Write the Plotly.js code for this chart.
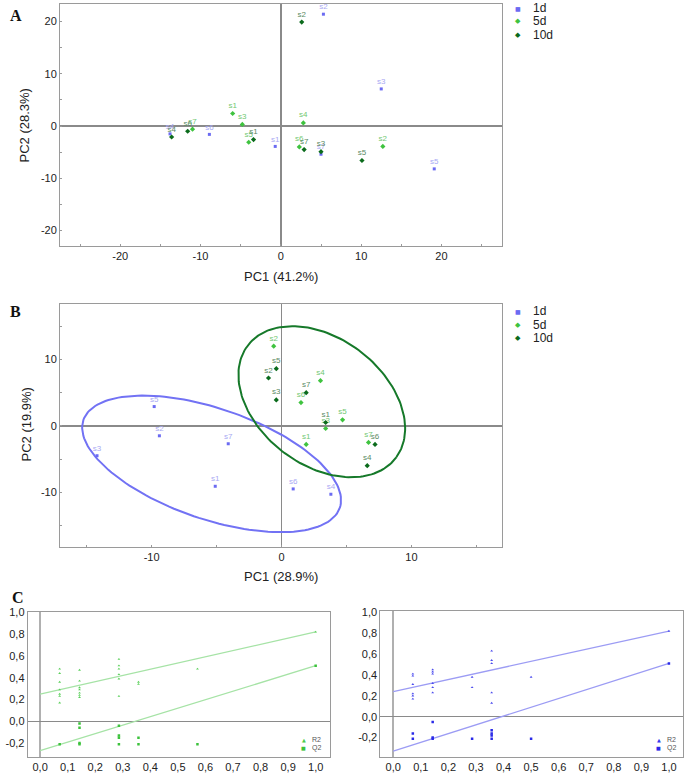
<!DOCTYPE html>
<html><head><meta charset="utf-8">
<script src="https://cdn.plot.ly/plotly-3.0.1.min.js"></script>
<style>html,body{margin:0;padding:0;background:#fff}#chart{width:685px;height:775px}</style>
</head><body><div id="chart"></div>
<script>
// ---------- DATA ----------
const sampleLabels = ['s1','s2','s3','s4','s5','s6','s7'];
const groupNames = ['1d','5d','10d'];
const axisTitles = {aX:'PC1 (41.2%)', aY:'PC2 (28.3%)', bX:'PC1 (28.9%)', bY:'PC2 (19.9%)'};

// Panel A (PCA scores)
const a1dX  = [-0.7, 5.3, 12.5, -13.8, 19.1, -8.9, 5.0];
const a1dY  = [-3.9, 21.4, 7.1, -1.5, -8.2, -1.6, -5.4];
const a5dX  = [-6.0, 12.7, -4.8, 2.8, -4.0, 2.3, -11.0];
const a5dY  = [2.4, -3.9, 0.3, 0.6, -3.1, -4.0, -0.6];
const a10dX = [-3.4, 2.6, 5.0, -13.6, 10.1, -11.6, 2.9];
const a10dY = [-2.6, 19.9, -4.9, -2.1, -6.6, -1.0, -4.5];

// Panel B (PCA scores)
const b1dX  = [-5.1, -9.4, -14.2, 3.8, -9.8, 0.9, -4.1];
const b1dY  = [-9.1, -1.5, -4.5, -10.3, 2.9, -9.5, -2.7];
const b5dX  = [1.9, -0.6, 3.4, 3.0, 4.7, 1.5, 6.7];
const b5dY  = [-2.8, 12.0, -0.4, 6.8, 0.9, 3.5, -2.5];
const b10dX = [3.4, -1.0, -0.4, 6.6, -0.4, 7.2, 1.9];
const b10dY = [0.5, 7.2, 3.9, -6.0, 8.6, -2.8, 5.0];
// ellipses: [cx, cy, ux, uy, vx, vy] (centre and conjugate semi-diameters)
const ellipse1d  = [-5.38, -5.73, 9.87, -6.61, -1.37, -7.88];
const ellipse5d10d = [3.1, 3.63, 5.75, -8.33, -2.85, -7.75];

// Panel C left (permutation test, green)
const cLR2X = [0.071,0.071,0.071,0.071,0.071,0.071,0.071, 0.143,0.143,0.143,0.143,0.143,0.143,0.143, 0.286,0.286,0.286,0.286,0.286,0.286, 0.357,0.357, 0.571, 1.0];
const cLR2Y = [0.48,0.44,0.36,0.29,0.25,0.23,0.17, 0.47,0.37,0.31,0.29,0.26,0.24,0.22, 0.57,0.51,0.48,0.43,0.39,0.23, 0.36,0.34, 0.48, 0.82];
const cLQ2X = [0.071, 0.143,0.143,0.143,0.143, 0.286,0.286,0.286,0.286, 0.357,0.357, 0.571, 1.0];
const cLQ2Y = [-0.21, -0.02,-0.06,-0.20,-0.21, -0.04,-0.13,-0.15,-0.21, -0.15,-0.21, -0.21, 0.51];
const cLR2Line = [0.25, 0.82];
const cLQ2Line = [-0.27, 0.51];

// Panel C right (permutation test, blue)
const cRR2X = [0.071,0.071,0.071,0.071,0.071,0.071, 0.143,0.143,0.143,0.143,0.143,0.143, 0.286,0.286, 0.357,0.357,0.357,0.357,0.357, 0.5, 1.0];
const cRR2Y = [0.41,0.39,0.31,0.22,0.20,0.17, 0.45,0.43,0.41,0.32,0.28,0.23, 0.38,0.28, 0.63,0.54,0.51,0.23,0.13, 0.38, 0.82];
const cRQ2X = [0.071,0.071, 0.143,0.143,0.143, 0.286, 0.357,0.357,0.357,0.357, 0.5, 1.0];
const cRQ2Y = [-0.16,-0.21, -0.05,-0.20,-0.21, -0.21, -0.13,-0.16,-0.18,-0.21, -0.21, 0.51];
const cRR2Line = [0.24, 0.82];
const cRQ2Line = [-0.33, 0.51];
const lineX = [0, 1];

// Tick labels
const aXTicks = [-20,-10,0,10,20], aXText = ['-20','-10','0','10','20'];
const aYTicks = [-20,-10,0,10,20], aYText = ['-20','-10','0','10','20'];
const bXTicks = [-10,0,10], bXText = ['-10','0','10'];
const bYTicks = [-10,0,10], bYText = ['-10','0','10'];
const cXTicks = [0,0.1,0.2,0.3,0.4,0.5,0.6,0.7,0.8,0.9,1.0];
const cXText = ['0,0','0,1','0,2','0,3','0,4','0,5','0,6','0,7','0,8','0,9','1,0'];
const cYTicks = [-0.2,0,0.2,0.4,0.6,0.8,1.0];
const cYText = ['-0,2','0,0','0,2','0,4','0,6','0,8','1,0'];

// ---------- STYLE ----------
const FONT = 'Liberation Sans, Arial, sans-serif';
const W = 685, H = 775;
const col1d = '#6b6bf2', col5d = '#3fc33f', col10d = '#0b6b1c';
const txt1d = '#a9a9f3', txt5d = '#72c872', txt10d = '#5b8a63';
const colEllBlue = '#7272f4', colEllGreen = '#16792a';

function ell(p){
  const xs=[], ys=[];
  for(let i=0;i<=160;i++){
    const t = 2*Math.PI*i/160;
    xs.push(p[0]+p[2]*Math.cos(t)+p[4]*Math.sin(t));
    ys.push(p[1]+p[3]*Math.cos(t)+p[5]*Math.sin(t));
  }
  return {xs, ys};
}

function scoreTrace(x, y, xa, ya, symbol, mcol, tcol, size){
  return {x, y, xaxis:xa, yaxis:ya, type:'scatter', mode:'markers+text',
    text: sampleLabels, textposition:'top center',
    textfont:{family:FONT, size:8, color:tcol},
    marker:{symbol, size, color:mcol, line:{width:0}}, showlegend:false, cliponaxis:false};
}

const eB1 = ell(ellipse1d), eB2 = ell(ellipse5d10d);

const traces = [
  scoreTrace(a1dX, a1dY, 'x', 'y', 'square', col1d, txt1d, 3),
  scoreTrace(a5dX, a5dY, 'x', 'y', 'diamond', col5d, txt5d, 4),
  scoreTrace(a10dX, a10dY, 'x', 'y', 'diamond', col10d, txt10d, 4),
  {x:eB1.xs, y:eB1.ys, xaxis:'x2', yaxis:'y2', type:'scatter', mode:'lines',
   line:{color:colEllBlue, width:2}, showlegend:false},
  {x:eB2.xs, y:eB2.ys, xaxis:'x2', yaxis:'y2', type:'scatter', mode:'lines',
   line:{color:colEllGreen, width:2}, showlegend:false},
  scoreTrace(b1dX, b1dY, 'x2', 'y2', 'square', col1d, txt1d, 3),
  scoreTrace(b5dX, b5dY, 'x2', 'y2', 'diamond', col5d, txt5d, 4),
  scoreTrace(b10dX, b10dY, 'x2', 'y2', 'diamond', col10d, txt10d, 4),
  {x:lineX, y:cLR2Line, xaxis:'x3', yaxis:'y3', type:'scatter', mode:'lines', line:{color:'#a6e3a6', width:1.3}, showlegend:false},
  {x:lineX, y:cLQ2Line, xaxis:'x3', yaxis:'y3', type:'scatter', mode:'lines', line:{color:'#a6e3a6', width:1.3}, showlegend:false},
  {x:cLR2X, y:cLR2Y, xaxis:'x3', yaxis:'y3', type:'scatter', mode:'markers', marker:{symbol:'triangle-up', size:2.5, color:'#5ad05a'}, showlegend:false},
  {x:cLQ2X, y:cLQ2Y, xaxis:'x3', yaxis:'y3', type:'scatter', mode:'markers', marker:{symbol:'square', size:2.5, color:'#3cc23c'}, showlegend:false},
  {x:lineX, y:cRR2Line, xaxis:'x4', yaxis:'y4', type:'scatter', mode:'lines', line:{color:'#9c9cf4', width:1.3}, showlegend:false},
  {x:lineX, y:cRQ2Line, xaxis:'x4', yaxis:'y4', type:'scatter', mode:'lines', line:{color:'#9c9cf4', width:1.3}, showlegend:false},
  {x:cRR2X, y:cRR2Y, xaxis:'x4', yaxis:'y4', type:'scatter', mode:'markers', marker:{symbol:'triangle-up', size:2.5, color:'#4a4aee'}, showlegend:false},
  {x:cRQ2X, y:cRQ2Y, xaxis:'x4', yaxis:'y4', type:'scatter', mode:'markers', marker:{symbol:'square', size:2.5, color:'#2a2ae8'}, showlegend:false}
];

function dx(px){ return px/W; }
function dy(py){ return 1 - py/H; }

function axisBase(extra){
  return Object.assign({
    showgrid:false, showline:true, mirror:true, linecolor:'#9a9a9a', linewidth:1,
    zeroline:true, zerolinecolor:'#8a8a8a', zerolinewidth:1.5,
    tickmode:'array', ticks:'inside', ticklen:2, tickcolor:'#9a9a9a',
    tickfont:{family:FONT, size:11, color:'#222'}, fixedrange:true
  }, extra);
}
const minorT = {dtick:5, tick0:0, ticks:'inside', ticklen:2, tickcolor:'#9a9a9a'};

const layout = {
  width:W, height:H, margin:{l:0,r:0,t:0,b:0},
  paper_bgcolor:'#fff', plot_bgcolor:'#fff', showlegend:false,
  font:{family:FONT, color:'#222'},
  xaxis: axisBase({domain:[dx(60),dx(501.7)], range:[-27.5,27.5], anchor:'y',
    tickvals:aXTicks, ticktext:aXText, minor:minorT}),
  yaxis: axisBase({domain:[dy(245.7),dy(4)], range:[-22.9,23.35], anchor:'x',
    tickvals:aYTicks, ticktext:aYText, minor:minorT}),
  xaxis2: axisBase({domain:[dx(60),dx(501.7)], range:[-17.05,16.95], anchor:'y2',
    tickvals:bXTicks, ticktext:bXText, minor:minorT}),
  yaxis2: axisBase({domain:[dy(546.7),dy(304.3)], range:[-18.2,18.3], anchor:'x2',
    tickvals:bYTicks, ticktext:bYText, minor:minorT}),
  xaxis3: axisBase({domain:[dx(27.7),dx(330)], range:[-0.045,1.052], anchor:'y3',
    tickvals:cXTicks, ticktext:cXText, zerolinecolor:'#b0b0b0', zerolinewidth:2, ticks:''}),
  yaxis3: axisBase({domain:[dy(756.7),dy(612.3)], range:[-0.325,1.0], anchor:'x3',
    tickvals:cYTicks, ticktext:cYText, zerolinecolor:'#8a8a8a', zerolinewidth:1, ticks:''}),
  xaxis4: axisBase({domain:[dx(380.3),dx(682.7)], range:[-0.047,1.05], anchor:'y4',
    tickvals:cXTicks, ticktext:cXText, zerolinecolor:'#b0b0b0', zerolinewidth:2, ticks:''}),
  yaxis4: axisBase({domain:[dy(756.7),dy(611)], range:[-0.383,1.012], anchor:'x4',
    tickvals:cYTicks, ticktext:cYText, zerolinecolor:'#8a8a8a', zerolinewidth:1, ticks:''}),
  annotations: []
};

const ann = layout.annotations;
function addText(px, py, text, opts){
  ann.push(Object.assign({xref:'paper', yref:'paper', x:dx(px), y:dy(py), text,
    showarrow:false, xanchor:'left', yanchor:'middle',
    font:{family:FONT, size:12, color:'#222'}}, opts||{}));
}
// axis titles
const titleFont = {family:FONT, size:13, color:'#222'};
addText(281, 276, axisTitles.aX, {xanchor:'center', font:titleFont});
addText(24.5, 125, axisTitles.aY, {xanchor:'center', yanchor:'middle', textangle:-90, font:titleFont});
addText(281, 576, axisTitles.bX, {xanchor:'center', font:titleFont});
addText(26.5, 425, axisTitles.bY, {xanchor:'center', yanchor:'middle', textangle:-90, font:titleFont});

// panel letters
const letterFont = {family:'Liberation Serif, Times New Roman, serif', size:16, color:'#111'};
addText(8, 15, '<b>A</b>', {font:letterFont});
addText(8, 311, '<b>B</b>', {font:letterFont});
addText(10, 597, '<b>C</b>', {font:letterFont});

// legends for A and B
const legSym = ['■','◆','◆'];
const legCol = [col1d, col5d, col10d];
[[8,21.5,35],[311,324.5,338]].forEach(rows=>{
  rows.forEach((ry,i)=>{
    addText(518, ry, legSym[i], {xanchor:'center', font:{family:'DejaVu Sans', size: i===0?6:7, color:legCol[i]}});
    addText(531, ry, groupNames[i], {font:{family:FONT, size:12, color:'#222'}});
  });
});
// legends for C
addText(303.5, 739.5, '▲', {xanchor:'center', font:{family:'DejaVu Sans', size:5, color:'#4ccc4c'}});
addText(310, 739.5, 'R2', {font:{family:FONT, size:7, color:'#555'}});
addText(303.5, 748, '■', {xanchor:'center', font:{family:'DejaVu Sans', size:5, color:'#3cc23c'}});
addText(310, 748, 'Q2', {font:{family:FONT, size:7, color:'#555'}});
addText(658.5, 739.5, '▲', {xanchor:'center', font:{family:'DejaVu Sans', size:5, color:'#3a3aee'}});
addText(665, 739.5, 'R2', {font:{family:FONT, size:7, color:'#555'}});
addText(658.5, 748, '■', {xanchor:'center', font:{family:'DejaVu Sans', size:5, color:'#2a2ae8'}});
addText(665, 748, 'Q2', {font:{family:FONT, size:7, color:'#555'}});

Plotly.newPlot('chart', traces, layout, {staticPlot:true, displayModeBar:false});
</script>
</body></html>
